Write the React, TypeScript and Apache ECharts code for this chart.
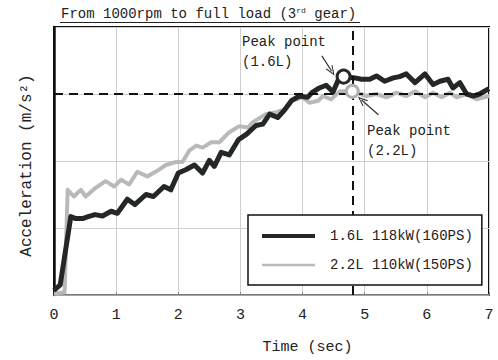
import React, { useEffect, useRef } from 'react';
import * as echarts from 'echarts';

const FONT = '"Liberation Mono", "DejaVu Sans Mono", monospace';
const INK = '#222';
const BLACK_LINE = '#232826';
const GRAY_LINE = '#b9b9b9';

const seriesNames = ['1.6L 118kW(160PS)', '2.2L 110kW(150PS)'];

// time (sec), acceleration (m/s²)
const accel16: [number, number][] = [
  [0, 0.07], [0.1, 0.15], [0.27, 1.17], [0.35, 1.14], [0.46, 1.14], [0.55, 1.17],
  [0.66, 1.2], [0.78, 1.18], [0.92, 1.25], [1.02, 1.22], [1.18, 1.43], [1.3, 1.35],
  [1.48, 1.5], [1.6, 1.47], [1.77, 1.62], [1.88, 1.57], [2.0, 1.82], [2.12, 1.87],
  [2.26, 1.94], [2.39, 1.82], [2.5, 2.01], [2.58, 1.92], [2.69, 2.13], [2.82, 2.09],
  [2.97, 2.32], [3.1, 2.4], [3.25, 2.53], [3.36, 2.55], [3.47, 2.7], [3.6, 2.65],
  [3.71, 2.76], [3.82, 2.9], [3.95, 2.97], [4.08, 2.95], [4.15, 3.02], [4.27, 3.09],
  [4.38, 3.13], [4.49, 3.03], [4.57, 3.2], [4.66, 3.26], [4.84, 3.24], [4.95, 3.22],
  [5.08, 3.22], [5.19, 3.27], [5.32, 3.19], [5.46, 3.24], [5.56, 3.26], [5.67, 3.3],
  [5.81, 3.17], [5.97, 3.3], [6.1, 3.14], [6.21, 3.19], [6.34, 3.22], [6.42, 3.09],
  [6.53, 3.17], [6.64, 3.0], [6.75, 2.97], [6.85, 3.0], [7.0, 3.08],
];

const accel22: [number, number][] = [
  [0, 0.02], [0.17, 0.04], [0.22, 1.57], [0.32, 1.47], [0.43, 1.57], [0.51, 1.47],
  [0.67, 1.6], [0.83, 1.7], [0.97, 1.62], [1.08, 1.72], [1.21, 1.65], [1.34, 1.84],
  [1.5, 1.77], [1.69, 1.87], [1.8, 1.94], [1.94, 1.98], [2.07, 1.99], [2.18, 2.16],
  [2.29, 2.23], [2.39, 2.2], [2.53, 2.28], [2.66, 2.28], [2.82, 2.43], [2.98, 2.52],
  [3.12, 2.5], [3.2, 2.58], [3.41, 2.7], [3.58, 2.73], [3.71, 2.77], [3.84, 2.9],
  [4.0, 2.95], [4.11, 2.87], [4.25, 2.9], [4.33, 2.97], [4.46, 2.92], [4.6, 3.04],
  [4.8, 3.04], [5.03, 2.97], [5.19, 3.0], [5.35, 2.95], [5.51, 3.02], [5.67, 2.97],
  [5.81, 3.04], [5.97, 2.95], [6.1, 3.02], [6.24, 2.95], [6.37, 3.02], [6.48, 2.95],
  [6.64, 3.0], [6.8, 2.92], [7.0, 2.97],
];

const peak16: [number, number] = [4.66, 3.26];
const peak22: [number, number] = [4.8, 3.04];
const refTime = 4.8;
const refAccel = 3;
const arrow16: [number, number][] = [[4.31, 3.57], [4.47, 3.34]];
const arrow22: [number, number][] = [[5.22, 2.69], [4.95, 2.91]];

const CHEVRON = 'path://M0,10L5,0L10,10L8.6,10L5,2.6L1.4,10Z';

export default function App() {
  const ref = useRef<HTMLDivElement>(null);
  useEffect(() => {
    if (!ref.current) return;
    const chart = echarts.init(ref.current, undefined, { renderer: 'svg' });
    const option: any = {
      animation: false,
      backgroundColor: '#fff',
      textStyle: { fontFamily: FONT },
      grid: {
        left: 54, right: 9, top: 27, bottom: 64,
        show: true, borderColor: '#111', borderWidth: 2, backgroundColor: 'transparent',
      },
      xAxis: {
        type: 'value', min: 0, max: 7, interval: 1,
        name: 'Time (sec)', nameLocation: 'middle', nameGap: 45,
        nameTextStyle: { fontSize: 15, color: INK, fontFamily: FONT, padding: [0, 0, 0, 72] },
        axisLine: { show: true, lineStyle: { color: '#999', width: 1.5 } },
        axisTick: { show: true, inside: true, length: 3, lineStyle: { color: '#888' } },
        axisLabel: { fontSize: 15, color: INK, margin: 13, fontFamily: FONT },
        splitLine: { show: true, lineStyle: { color: '#cfcfcf', width: 1 } },
      },
      yAxis: {
        type: 'value', min: 0, max: 4, interval: 1,
        name: 'Acceleration (m/s²)', nameLocation: 'middle', nameGap: 19,
        nameTextStyle: { fontSize: 16, color: INK, fontFamily: FONT, padding: [0, 9, 0, 0] },
        axisLine: { show: true, lineStyle: { color: '#111', width: 2.5 } },
        axisTick: { show: false },
        axisLabel: { show: false },
        splitLine: { show: true, lineStyle: { color: '#cfcfcf', width: 1 } },
      },
      legend: {
        orient: 'vertical', left: 248, top: 215, z: 10,
        itemWidth: 53, itemHeight: 8, itemGap: 15,
        padding: [14, 9, 13, 14],
        backgroundColor: '#fff', borderColor: '#111', borderWidth: 1.5,
        textStyle: { fontSize: 14, color: INK, fontFamily: FONT, padding: [0, 0, 0, 10] },
        data: [
          { name: seriesNames[0], icon: 'path://M0,0M53,8M0,2H53V6H0Z', itemStyle: { color: BLACK_LINE } },
          { name: seriesNames[1], icon: 'path://M0,0M53,8M0,2.8H53V5.2H0Z', itemStyle: { color: GRAY_LINE } },
        ],
      },
      graphic: [
        {
          type: 'text', left: 61, top: 6, z: 20,
          style: {
            text: 'From 1000rpm to full load (3{s|rd} gear)',
            font: `14px ${FONT}`, fill: INK,
            lineHeight: 16,
            rich: { s: { fontSize: 8, fontFamily: FONT, fill: INK, verticalAlign: 'top', lineHeight: 9 } },
          },
        },
        { type: 'line', z: 20, shape: { x1: 60, y1: 22.5, x2: 360, y2: 22.5 }, style: { stroke: INK, lineWidth: 1.2 } },
        {
          type: 'text', left: 242, top: 32, z: 20,
          style: { text: 'Peak point\n(1.6L)', font: `14px ${FONT}`, fill: INK, lineHeight: 20 },
        },
        {
          type: 'text', left: 367, top: 121, z: 20,
          style: { text: 'Peak point\n(2.2L)', font: `14px ${FONT}`, fill: INK, lineHeight: 20 },
        },
      ],
      series: [
        {
          name: seriesNames[0], type: 'line', data: accel16, showSymbol: false, symbol: 'none',
          lineStyle: { color: BLACK_LINE, width: 5, join: 'round' }, itemStyle: { color: BLACK_LINE }, z: 4,
          markLine: {
            silent: true, symbol: ['none', 'none'], label: { show: false },
            lineStyle: { color: '#111', type: [9, 6], width: 2 },
            data: [{ xAxis: refTime }, { yAxis: refAccel }],
          },
        },
        {
          name: seriesNames[1], type: 'line', data: accel22, showSymbol: false, symbol: 'none',
          lineStyle: { color: GRAY_LINE, width: 4, join: 'round' }, itemStyle: { color: GRAY_LINE }, z: 3,
        },
        {
          type: 'scatter', data: [peak16], symbol: 'circle', symbolSize: 13, z: 6, silent: true,
          itemStyle: { color: '#fff', borderColor: BLACK_LINE, borderWidth: 3, opacity: 1 },
          markLine: {
            silent: true, symbol: ['none', CHEVRON], symbolSize: [8, 10], label: { show: false },
            lineStyle: { color: '#333', type: 'solid', width: 1.2 },
            data: [
              [{ coord: arrow16[0] }, { coord: arrow16[1] }],
              [{ coord: arrow22[0] }, { coord: arrow22[1] }],
            ],
          },
        },
        {
          type: 'scatter', data: [peak22], symbol: 'circle', symbolSize: 12, z: 5, silent: true,
          itemStyle: { color: '#fff', borderColor: '#b0b0b0', borderWidth: 3, opacity: 1 },
        },
      ],
    };
    chart.setOption(option);
    return () => chart.dispose();
  }, []);
  return <div ref={ref} style={{ position: 'fixed', left: 0, top: 0, width: 498, height: 360 }} />;
}
